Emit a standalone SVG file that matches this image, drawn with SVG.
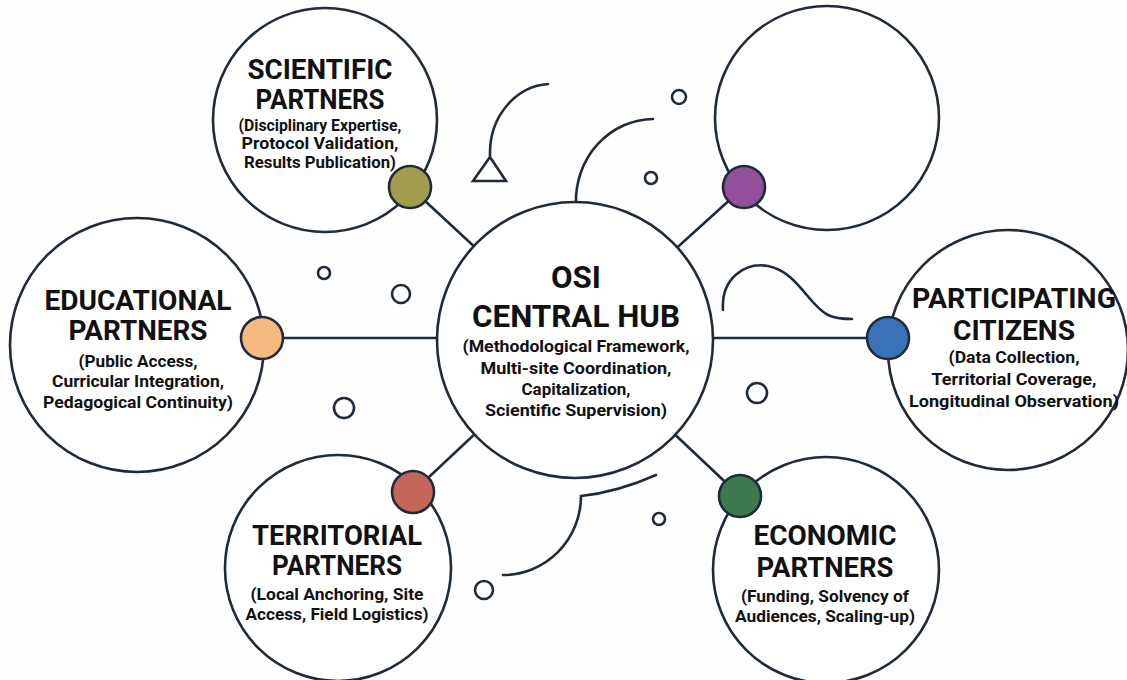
<svg xmlns="http://www.w3.org/2000/svg" width="1127" height="680" viewBox="0 0 1127 680">
<style>
.ring{fill:#fff;stroke:#1f2b3a;stroke-width:2.6}
.dot{stroke:#1f2b3a;stroke-width:2.6}
.con{stroke:#1f2b3a;stroke-width:2.6;fill:none}
.deco{stroke:#1f2b3a;stroke-width:2.6;fill:none;stroke-linecap:round}
.t{font-family:Roboto,"Liberation Sans",sans-serif;font-weight:700;fill:#111;text-anchor:middle}
.h{font-size:28px}
.s{font-size:16.5px}
.hh{font-size:31px}
.hs{font-size:17px}
</style>
<rect width="1127" height="680" fill="#fefefe"/>
<g id="decorations">
<path class="deco" d="M548,84 A62,69 0 0 0 490,153 L490,156"/>
<path class="deco" d="M490,157 L473,181 L506,181 Z" stroke-linejoin="miter"/>
<circle class="deco" cx="679" cy="97" r="7"/>
<circle class="deco" cx="651" cy="178" r="6"/>
<path class="deco" d="M653,119 A78,82 0 0 0 576,204"/>
<circle class="deco" cx="324" cy="273" r="6"/>
<circle class="deco" cx="401" cy="294" r="9"/>
<circle class="deco" cx="344" cy="408" r="10"/>
<path class="deco" d="M723,310 C721,278 745,262 768,266 C798,272 808,305 828,315 C836,319 845,319 852,319"/>
<circle class="deco" cx="757" cy="393" r="10"/>
<path class="deco" d="M656,475 Q618,492 581,496 A78,79 0 0 1 503,575"/>
<circle class="deco" cx="659" cy="519" r="6"/>
<circle class="deco" cx="484" cy="590" r="9"/>
</g>
<g id="connectors">
<line class="con" x1="410" y1="187" x2="575" y2="340"/>
<line class="con" x1="744" y1="187" x2="575" y2="340"/>
<line class="con" x1="262" y1="338" x2="575" y2="338"/>
<line class="con" x1="888" y1="338" x2="575" y2="338"/>
<line class="con" x1="413" y1="492" x2="575" y2="340"/>
<line class="con" x1="740" y1="496" x2="575" y2="340"/>
</g>
<g id="hub">
<circle class="ring" cx="575" cy="340" r="138"/>
<text class="t hh" x="576" y="288" textLength="50" lengthAdjust="spacingAndGlyphs">OSI</text>
<text class="t hh" x="576" y="327" textLength="208" lengthAdjust="spacingAndGlyphs">CENTRAL HUB</text>
<text class="t hs" x="576" y="352" textLength="227" lengthAdjust="spacingAndGlyphs">(Methodological Framework,</text>
<text class="t hs" x="576" y="374" textLength="191" lengthAdjust="spacingAndGlyphs">Multi-site Coordination,</text>
<text class="t hs" x="576" y="395" textLength="109" lengthAdjust="spacingAndGlyphs">Capitalization,</text>
<text class="t hs" x="576" y="416" textLength="182" lengthAdjust="spacingAndGlyphs">Scientific Supervision)</text>
</g>
<g id="scientific">
<circle class="ring" cx="325" cy="120" r="112"/>
<text class="t h" x="320" y="79" font-size="27" textLength="145" lengthAdjust="spacingAndGlyphs">SCIENTIFIC</text>
<text class="t h" x="320" y="109" font-size="27" textLength="129" lengthAdjust="spacingAndGlyphs">PARTNERS</text>
<text class="t s" x="320" y="131" textLength="163" lengthAdjust="spacingAndGlyphs">(Disciplinary Expertise,</text>
<text class="t s" x="320" y="149" textLength="157" lengthAdjust="spacingAndGlyphs">Protocol Validation,</text>
<circle class="dot" cx="410" cy="187" r="21" fill="#a29d4e"/>
<text class="t s" x="320" y="168" textLength="152" lengthAdjust="spacingAndGlyphs">Results Publication)</text>
</g>
<g id="empty-node">
<circle class="ring" cx="827" cy="118" r="112"/>
<circle class="dot" cx="744" cy="187" r="21" fill="#924f9a"/>
</g>
<g id="educational">
<circle class="ring" cx="137" cy="345" r="127"/>
<circle class="dot" cx="262" cy="338" r="21" fill="#f4b97f"/>
<text class="t h" x="138" y="310" textLength="187" lengthAdjust="spacingAndGlyphs">EDUCATIONAL</text>
<text class="t h" x="138" y="340" textLength="139" lengthAdjust="spacingAndGlyphs">PARTNERS</text>
<text class="t s" x="138" y="367" textLength="119" lengthAdjust="spacingAndGlyphs">(Public Access,</text>
<text class="t s" x="138" y="387" textLength="172" lengthAdjust="spacingAndGlyphs">Curricular Integration,</text>
<text class="t s" x="138" y="408" textLength="190" lengthAdjust="spacingAndGlyphs">Pedagogical Continuity)</text>
</g>
<g id="citizens">
<circle class="ring" cx="1008" cy="350" r="120"/>
<circle class="dot" cx="888" cy="338" r="21" fill="#3a73b7"/>
<text class="t h" x="1014" y="308" textLength="204" lengthAdjust="spacingAndGlyphs">PARTICIPATING</text>
<text class="t h" x="1014" y="340" textLength="122" lengthAdjust="spacingAndGlyphs">CITIZENS</text>
<text class="t s" x="1014" y="363" textLength="131" lengthAdjust="spacingAndGlyphs">(Data Collection,</text>
<text class="t s" x="1014" y="385" textLength="165" lengthAdjust="spacingAndGlyphs">Territorial Coverage,</text>
<text class="t s" x="1014" y="407" textLength="210" lengthAdjust="spacingAndGlyphs">Longitudinal Observation)</text>
</g>
<g id="territorial">
<circle class="ring" cx="338" cy="568" r="113"/>
<circle class="dot" cx="413" cy="492" r="21" fill="#c4655a"/>
<text class="t h" x="337" y="545" textLength="170" lengthAdjust="spacingAndGlyphs">TERRITORIAL</text>
<text class="t h" x="337" y="575" textLength="130" lengthAdjust="spacingAndGlyphs">PARTNERS</text>
<text class="t s" x="337" y="600" textLength="173" lengthAdjust="spacingAndGlyphs">(Local Anchoring, Site</text>
<text class="t s" x="337" y="620" textLength="183" lengthAdjust="spacingAndGlyphs">Access, Field Logistics)</text>
</g>
<g id="economic">
<circle class="ring" cx="826" cy="570" r="113"/>
<circle class="dot" cx="740" cy="496" r="21" fill="#3f7a4f"/>
<text class="t h" x="825" y="545" textLength="143" lengthAdjust="spacingAndGlyphs">ECONOMIC</text>
<text class="t h" x="825" y="577" textLength="137" lengthAdjust="spacingAndGlyphs">PARTNERS</text>
<text class="t s" x="825" y="602" textLength="168" lengthAdjust="spacingAndGlyphs">(Funding, Solvency of</text>
<text class="t s" x="825" y="622" textLength="180" lengthAdjust="spacingAndGlyphs">Audiences, Scaling-up)</text>
</g>
</svg>
